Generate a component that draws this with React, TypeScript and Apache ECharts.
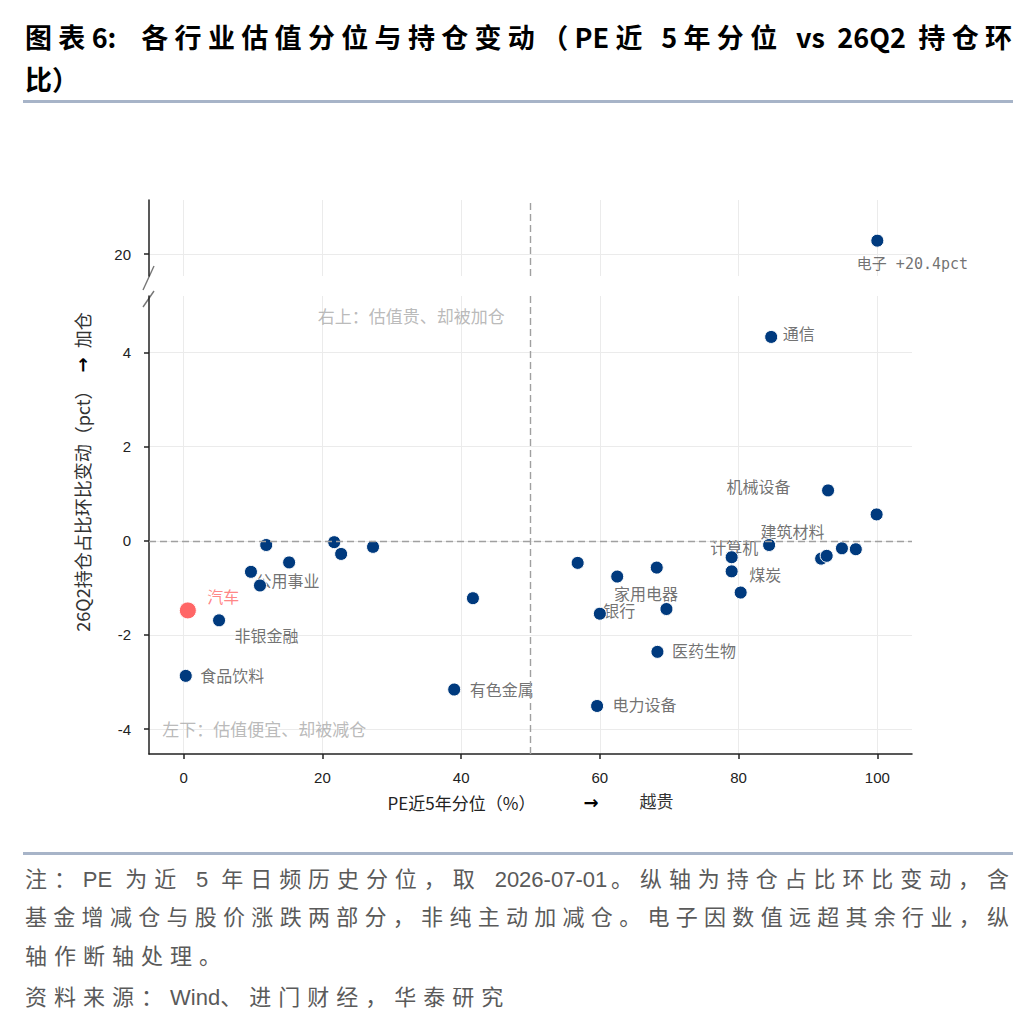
import { useEffect, useRef } from "react";
import * as echarts from "echarts";

// ─── Data ─────────────────────────────────────────────────────────
// one entry per industry; "" = point drawn without a label
const INDUSTRY = [
  "电子", "通信", "机械设备", "", "建筑材料", "计算机", "煤炭", "",
  "", "", "", "", "", "", "",
  "银行", "家用电器", "医药生物", "电力设备",
  "", "有色金属", "食品饮料", "非银金融", "汽车", "公用事业",
  "", "", "", "", "", "",
];
const PE_PCTL = [
  100.0, 84.7, 92.9, 99.9, 84.4, 79.0, 79.0, 80.3,
  91.9, 92.7, 94.9, 96.9, 56.8, 62.5, 68.2,
  60.0, 69.6, 68.3, 59.6,
  41.7, 39.0, 0.3, 5.1, 0.6, 11.0,
  9.7, 11.9, 15.2, 21.7, 22.7, 27.3,
];
const HOLD_CHG = [
  20.4, 4.33, 1.07, 0.56, -0.09, -0.35, -0.65, -1.1,
  -0.38, -0.32, -0.16, -0.18, -0.47, -0.76, -0.57,
  -1.55, -1.45, -2.36, -3.51,
  -1.22, -3.16, -2.87, -1.69, -1.48, -0.95,
  -0.66, -0.09, -0.46, -0.03, -0.28, -0.13,
];

const X_TICKS = [0, 20, 40, 60, 80, 100];
const Y_TICKS_LOW = [-4, -2, 0, 2, 4];
const Y_TICKS_HIGH = [20];

const QUADRANT_NOTES = ["右上：估值贵、却被加仓", "左下：估值便宜、却被减仓"];
const QUADRANT_X = [19.4, -3.0];
const QUADRANT_Y = [4.75, -4.04];

const HIGHLIGHT = "汽车";
const PE_DIVIDE = 50;
const CHG_DIVIDE = 0;
const BREAK_AT = 10; // values above go to the upper (broken) panel

// ─── Styles ────────────────────────────────────────────────────────
const AXIS_COLOR = "#222";
const GRID_COLOR = "#ebebeb";
const DASH_COLOR = "#a0a0a0";
const DOT_COLOR = "#003a7e";
const HIGHLIGHT_COLOR = "#ff6666";
const LABEL_COLOR = "#4d4d4d";
const LABEL_FONT = '"DejaVu Sans Mono", "Noto Sans CJK SC", sans-serif';
const TICK_FONT = '"Liberation Sans", "Noto Sans CJK SC", sans-serif';
const CJK_FONT = '"Noto Sans CJK SC", sans-serif';
const ARROW_FONT = '"DejaVu Sans", sans-serif';

// label position relative to the dot centre: [left edge dx, middle dy]
const LABEL_OFFSET: Record<string, [number, number]> = {
  电子: [-20, 24],
  通信: [12, -2],
  机械设备: [-101, -2],
  建筑材料: [-8, -12],
  计算机: [-21, -8],
  煤炭: [18, 5],
  银行: [4, -2],
  家用电器: [-52, -14],
  医药生物: [15, 0],
  电力设备: [16, 0],
  有色金属: [16, 1],
  食品饮料: [15, 1],
  非银金融: [16, 17],
  汽车: [20, -12],
  公用事业: [-4, -3],
};

function buildOption() {
  const points = INDUSTRY.map((name, i) => ({ name, value: [PE_PCTL[i], HOLD_CHG[i]] }));
  const upper = points.filter((p) => p.value[1] > BREAK_AT);
  const lower = points.filter((p) => p.value[1] <= BREAK_AT);

  const dividerLine = (data: any[]) => ({
    silent: true,
    symbol: ["none", "none"],
    label: { show: false },
    emphasis: { disabled: true },
    lineStyle: { color: DASH_COLOR, type: [7, 4], width: 1.4 },
    data,
  });

  const dotSeries = (pts: any[], axis: number, lines: any[]) => ({
    type: "scatter",
    xAxisIndex: axis,
    yAxisIndex: axis,
    z: 3,
    silent: true,
    data: pts.map((p) => ({
      name: p.name,
      value: p.value,
      symbolSize: p.name === HIGHLIGHT ? 17 : 13,
      itemStyle: { color: p.name === HIGHLIGHT ? HIGHLIGHT_COLOR : DOT_COLOR },
    })),
    itemStyle: { borderColor: "#fff", borderWidth: 1, opacity: 1 },
    markLine: dividerLine(lines),
  });

  const labelSeries = (pts: any[], axis: number) => ({
    type: "scatter",
    xAxisIndex: axis,
    yAxisIndex: axis,
    z: 2,
    silent: true,
    symbolSize: 1,
    itemStyle: { color: "rgba(0,0,0,0)" },
    data: pts
      .filter((p) => p.name)
      .map((p) => ({
        name: p.name,
        value: p.value,
        label: {
          position: LABEL_OFFSET[p.name] ?? [12, 0],
          color: p.name === HIGHLIGHT ? HIGHLIGHT_COLOR : LABEL_COLOR,
          fontSize: p.value[1] > BREAK_AT ? 15 : 16,
        },
      })),
    label: {
      show: true,
      align: "left",
      verticalAlign: "middle",
      fontSize: 16,
      fontFamily: LABEL_FONT,
      formatter: (p: any) =>
        p.value[1] > BREAK_AT ? `${p.name} +${p.value[1].toFixed(1)}pct` : p.name,
    },
  });

  const tickLabel = {
    color: AXIS_COLOR,
    fontSize: 15,
    fontFamily: TICK_FONT,
  };
  const axisLine = { show: true, onZero: false, lineStyle: { color: AXIS_COLOR, width: 1.5 } };
  const splitLine = { show: true, lineStyle: { color: GRID_COLOR, width: 1 } };
  const tick = (values: number[], show = true) => ({
    show,
    customValues: values,
    length: 5,
    lineStyle: { color: AXIS_COLOR, width: 1.5 },
  });

  return {
    animation: false,
    backgroundColor: "transparent",
    grid: [
      { left: 149, right: 124, top: 200, height: 76 },
      { left: 149, right: 124, top: 296, height: 458 },
    ],
    xAxis: [
      {
        gridIndex: 0,
        type: "value",
        min: -5,
        max: 105,
        axisLine: { show: false, onZero: false },
        axisTick: tick(X_TICKS, false),
        axisLabel: { show: false, customValues: X_TICKS },
        splitLine,
      },
      {
        gridIndex: 1,
        type: "value",
        min: -5,
        max: 105,
        axisLine,
        axisTick: tick(X_TICKS),
        axisLabel: { ...tickLabel, customValues: X_TICKS, margin: 16 },
        splitLine,
        name: "{a|PE近5年分位（%）}{b|→}{c|越贵}",
        nameLocation: "middle",
        nameGap: 39,
        nameTextStyle: {
          rich: {
            a: { fontSize: 17, color: AXIS_COLOR, fontFamily: CJK_FONT },
            b: {
              fontSize: 18,
              fontWeight: "bold",
              color: "#000",
              fontFamily: ARROW_FONT,
              padding: [0, 41, 0, 48],
            },
            c: { fontSize: 17, color: "#333", fontFamily: LABEL_FONT },
          },
        },
      },
    ],
    yAxis: [
      {
        gridIndex: 0,
        type: "value",
        min: 19.34,
        max: 21.62,
        axisLine,
        axisTick: tick(Y_TICKS_HIGH),
        axisLabel: { ...tickLabel, customValues: Y_TICKS_HIGH, margin: 18 },
        splitLine,
      },
      {
        gridIndex: 1,
        type: "value",
        min: -4.53,
        max: 5.2,
        axisLine,
        axisTick: tick(Y_TICKS_LOW),
        axisLabel: { ...tickLabel, customValues: Y_TICKS_LOW, margin: 18 },
        splitLine,
      },
    ],
    series: [
      labelSeries(upper, 0),
      dotSeries(upper, 0, [{ xAxis: PE_DIVIDE }]),
      labelSeries(lower, 1),
      dotSeries(lower, 1, [{ xAxis: PE_DIVIDE }, { yAxis: CHG_DIVIDE }]),
      {
        type: "scatter",
        xAxisIndex: 1,
        yAxisIndex: 1,
        z: 1,
        silent: true,
        symbolSize: 1,
        itemStyle: { color: "rgba(0,0,0,0)" },
        data: QUADRANT_NOTES.map((t, i) => ({ name: t, value: [QUADRANT_X[i], QUADRANT_Y[i]] })),
        label: {
          show: true,
          position: [0, 0],
          align: "left",
          verticalAlign: "middle",
          formatter: "{b}",
          color: "#a8a8a8",
          fontSize: 17,
          fontFamily: LABEL_FONT,
        },
      },
    ],
    graphic: [
      // axis break marks
      {
        type: "line",
        silent: true,
        shape: { x1: 143, y1: 290, x2: 154, y2: 266 },
        style: { stroke: "#777", lineWidth: 1.4 },
      },
      {
        type: "line",
        silent: true,
        shape: { x1: 143, y1: 307, x2: 154, y2: 291 },
        style: { stroke: "#777", lineWidth: 1.4 },
      },
      // y-axis title (spans both panels)
      {
        type: "text",
        x: 82,
        y: 472,
        rotation: Math.PI / 2,
        silent: true,
        style: {
          text: "{a|26Q2持仓占比环比变动（pct）}{b|→}{a|加仓}",
          align: "center",
          verticalAlign: "middle",
          rich: {
            a: { fontSize: 18, fill: "#333", fontFamily: CJK_FONT },
            b: {
              fontSize: 18,
              fontWeight: "bold",
              fill: "#000",
              fontFamily: ARROW_FONT,
              padding: [0, 9, 0, 9],
            },
          },
        },
      },
    ],
  };
}

const NOTE_FONT = '"Liberation Sans", "Noto Sans CJK SC", sans-serif';
const Latin = ({ children }: { children: string }) => (
  <span style={{ letterSpacing: 0 }}>{children}</span>
);

export default function App() {
  const chartRef = useRef<HTMLDivElement>(null);

  useEffect(() => {
    if (!chartRef.current) return;
    const chart = echarts.init(chartRef.current, undefined, { renderer: "svg" });
    chart.setOption(buildOption() as any);
    return () => chart.dispose();
  }, []);

  const noteLine = (top: number, justify: boolean) => ({
    position: "absolute" as const,
    left: 25,
    top,
    width: 987,
    font: `22px ${NOTE_FONT}`,
    lineHeight: "30px",
    letterSpacing: justify ? "3px" : "7px",
    color: "#5a5a5a",
    textAlign: justify ? ("justify" as const) : ("left" as const),
    textAlignLast: justify ? ("justify" as const) : ("left" as const),
  });

  const rule = (top: number) => ({
    position: "absolute" as const,
    left: 23,
    top,
    width: 990,
    height: 3,
    background: "#a7b4c8",
  });

  return (
    <div style={{ position: "absolute", left: 0, top: 0, width: 1036, height: 1020, background: "#fff" }}>
      <div ref={chartRef} style={{ position: "absolute", left: 0, top: 0, width: 1036, height: 1020 }} />
      <div
        style={{
          position: "absolute",
          left: 25,
          top: 16,
          width: 987,
          font: `bold 27px ${CJK_FONT}`,
          lineHeight: "42px",
          color: "#000",
          textAlign: "justify",
          textAlignLast: "justify",
        }}
      >
        图表6:&nbsp;&nbsp;各行业估值分位与持仓变动（PE近 5年分位 vs 26Q2 持仓环
      </div>
      <div
        style={{
          position: "absolute",
          left: 25,
          top: 58,
          font: `bold 27px ${CJK_FONT}`,
          lineHeight: "42px",
          color: "#000",
        }}
      >
        比）
      </div>
      <div style={rule(100)} />
      <div style={rule(852)} />
      <div style={noteLine(865, true)}>
        注：<Latin>PE</Latin> 为近 <Latin>5</Latin> 年日频历史分位，取 <Latin>2026-07-01</Latin>。纵轴为持仓占比环比变动，含
      </div>
      <div style={noteLine(903, true)}>基金增减仓与股价涨跌两部分，非纯主动加减仓。电子因数值远超其余行业，纵</div>
      <div style={noteLine(942, false)}>轴作断轴处理。</div>
      <div style={noteLine(983, false)}>
        资料来源：<Latin>Wind</Latin>、进门财经，华泰研究
      </div>
    </div>
  );
}
